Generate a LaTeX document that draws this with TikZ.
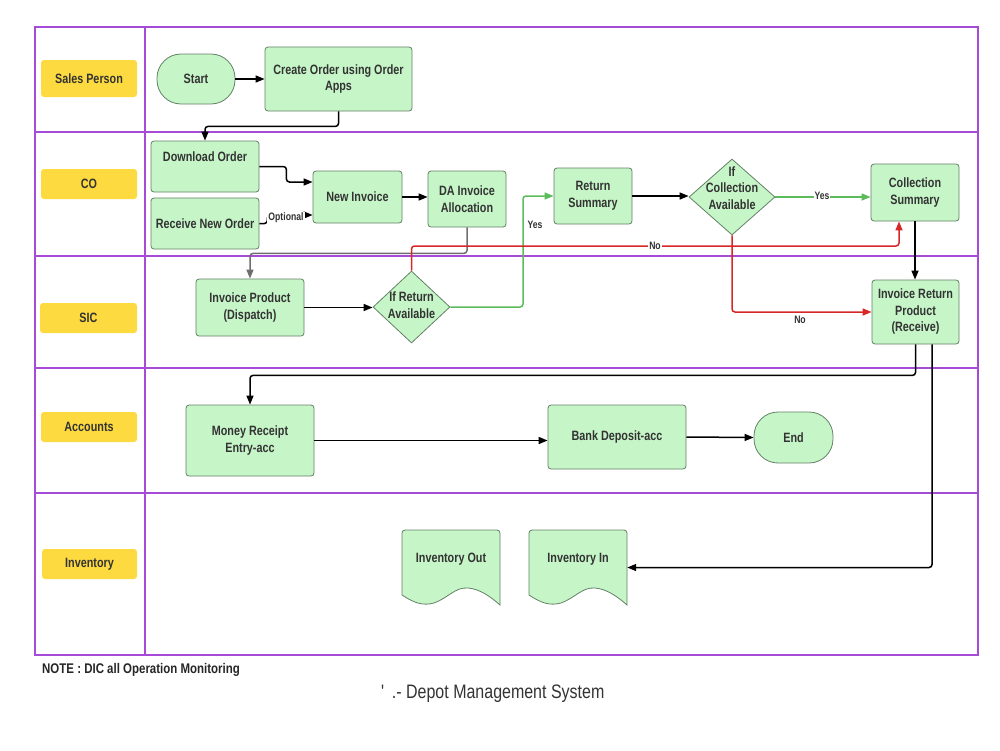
\documentclass[tikz,border=0pt]{standalone}
\usepackage{fontspec}
\setmainfont{Liberation Sans}[FakeStretch=0.8]
\newfontfamily\capfont{Liberation Sans}[FakeStretch=0.82]
\usetikzlibrary{arrows.meta,shapes.geometric,calc}
\definecolor{lanec}{RGB}{165,75,215}
\definecolor{yel}{RGB}{253,218,64}
\definecolor{ng}{RGB}{198,245,200}
\definecolor{bord}{RGB}{100,128,102}
\definecolor{txt}{RGB}{51,51,51}
\definecolor{rd}{RGB}{215,40,40}
\definecolor{gr}{RGB}{92,188,92}
\definecolor{gry}{RGB}{110,110,110}
\tikzset{
  lane/.style={draw=lanec,line width=2},
  lanelbl/.style={fill=yel,rounded corners=3,text=txt,inner sep=0,font=\fontsize{13.5}{16.5}\selectfont\bfseries},
  box/.style={draw=bord,fill=ng,rounded corners=3,line width=0.8,text=txt,align=center,inner sep=0,font=\fontsize{13.5}{16.5}\selectfont\bfseries},
  term/.style={box,rounded corners=24},
  dia/.style={diamond,draw=bord,fill=ng,line width=0.8,inner sep=0},
  txtn/.style={text=txt,align=center,inner sep=0,font=\fontsize{13.5}{16.5}\selectfont\bfseries},
  anch/.style={inner sep=0},
  docst/.style={draw=bord,fill=ng,line width=0.8},
  arr/.style={line width=1.5,rounded corners=3,-{Triangle[length=9,width=7]}},
  arrk/.style={arr,draw=black},
  arrg/.style={arr,draw=gry},
  arrgr/.style={arr,draw=gr},
  arrrd/.style={arr,draw=rd},
  elab/.style={text=txt,inner sep=1,font=\fontsize{10.8}{12}\selectfont\bfseries},
  docpic/.pic={\draw[docst] (98,75) [rounded corners=3] -- (98,0) -- (0,0) [sharp corners] -- (0,65) .. controls (12,73) and (21,76) .. (32,73) .. controls (46,68) and (53,57) .. (66,58) .. controls (78,59) and (89,67) .. (98,75) -- cycle;}
}
\begin{document}
\begin{tikzpicture}[x=1pt,y=-1pt]
\useasboundingbox (0,0) rectangle (1000,750);
% lanes
\draw[lane] (35,27) rectangle (978,655);
\draw[lane] (145,27) -- (145,655);
\foreach \yy in {132,256,368,493} {\draw[lane] (35,\yy) -- (978,\yy);}
% lane labels
\node[lanelbl,minimum width=96,minimum height=37] (lsp) at (89,78.5) {Sales Person};
\node[lanelbl,minimum width=96,minimum height=30] (lco) at (89,184) {CO};
\node[lanelbl,minimum width=97,minimum height=30] (lsic) at (88.5,318) {SIC};
\node[lanelbl,minimum width=96,minimum height=30] (lacc) at (89,427) {Accounts};
\node[lanelbl,minimum width=95,minimum height=30] (linv) at (89.5,564) {Inventory};
% nodes
\node[term,minimum width=78,minimum height=50] (start) at (196,79) {Start};
\node[box,minimum width=147,minimum height=64] (create) at (338.5,79) {Create Order using Order\\Apps};
\node[box,minimum width=108,minimum height=51] (dl) at (205,166.5) {};
\node[txtn] (dltxt) at (205,157) {Download Order};
\node[box,minimum width=108,minimum height=51] (rec) at (205,223.5) {Receive New Order};
\node[box,minimum width=89,minimum height=52] (ni) at (357.5,197) {New Invoice};
\node[box,minimum width=78,minimum height=56] (da) at (467,199) {DA Invoice\\Allocation};
\node[box,minimum width=78,minimum height=56] (rs) at (593,196) {Return\\Summary};
\node[dia,minimum width=86,minimum height=76] (dc) at (732,197) {};
\node[txtn] (dctxt) at (732,188) {If\\Collection\\Available};
\node[box,minimum width=88,minimum height=57] (cs) at (915,192.5) {Collection\\Summary};
\node[box,minimum width=108,minimum height=57] (ip) at (250,307.5) {Invoice Product\\(Dispatch)};
\node[dia,minimum width=77,minimum height=72] (dr) at (411.5,307) {};
\node[txtn] (drtxt) at (411.5,305) {If Return\\Available};
\node[box,minimum width=87,minimum height=64] (irp) at (915.5,312) {Invoice Return\\Product\\(Receive)};
\node[box,minimum width=128,minimum height=71] (mr) at (250,440.5) {Money Receipt\\Entry-acc};
\node[box,minimum width=138,minimum height=64] (bd) at (617,437) {Bank Deposit-acc};
\node[term,minimum width=79,minimum height=51] (end) at (793.5,437.5) {End};
% documents
\pic at (402,530) {docpic};
\pic at (529,530) {docpic};
\node[anch,minimum width=98,minimum height=75] (invout) at (451,567.5) {};
\node[anch,minimum width=98,minimum height=75] (invin) at (578,567.5) {};
\node[txtn] (invouttxt) at (451,559) {Inventory Out};
\node[txtn] (invintxt) at (578,559) {Inventory In};
% connectors
\draw[arrk] (start.east) -- (create.west);
\draw[arrk] (create.south) -- ++(0,15) -| (dl.north);
\draw[arrk] (dl.east) -- ++(27,0) |- ([yshift=15pt]ni.west);
\draw[arrk] (rec.east) -- ++(8,0) |- ([yshift=-18pt]ni.west);
\node[elab,fill=white] (optl) at (286,218) {Optional};
\draw[arrk] (ni.east) -- (ni.east -| da.west);
\draw[arrg] (da.south) -- ++(0,26) -| (ip.north);
\draw[arrk] (ip.east) -- (ip.east -| dr.west);
\draw[arrgr] (dr.east) -- (523,307) |- (rs.west);
\node[elab] (yes1) at (535,225) {Yes};
\draw[arrrd] (dr.north) -- (411.5,246) -- (899,246) -- ([xshift=-16pt]cs.south);
\node[elab,fill=white] (no1) at (655,246) {No};
\draw[arrk] (rs.east) -- (rs.east -| dc.west);
\draw[arrgr] (dc.east) -- (dc.east -| cs.west);
\node[elab,fill=white] (yes2) at (822,196) {Yes};
\draw[arrrd] (dc.south) |- (irp.west);
\node[elab] (no2) at (800,320) {No};
\draw[arrk] (cs.south) -- (cs.south |- irp.north);
\draw[arrk] (irp.south) -- ++(0,31) -| (mr.north);
\draw[arrk] ([xshift=16.5pt]irp.south) |- (invin.east);
\draw[arrk] (mr.east) -- (mr.east -| bd.west);
\draw[arrk] (bd.east) -- (end.west);
% notes
\node[anchor=west,text=black!85,inner sep=0,font=\capfont\fontsize{14}{16}\selectfont\bfseries] (note) at (42,670) {NOTE : DIC all Operation Monitoring};
\node[anchor=west,text=txt,inner sep=0,font=\capfont\fontsize{19.5}{22}\selectfont] (cap) at (381,694) {' \,.- Depot Management System};
\end{tikzpicture}
\end{document}
